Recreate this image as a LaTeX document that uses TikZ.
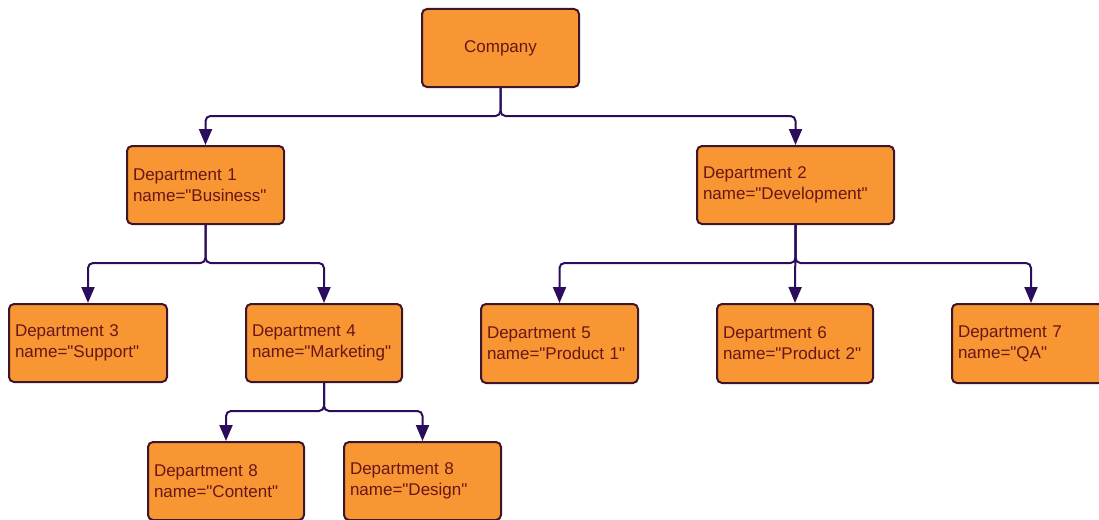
\documentclass[tikz,border=0pt]{standalone}
\usepackage{fontspec}
\setmainfont{Liberation Sans}[Ligatures=TeXOff]
\usetikzlibrary{arrows.meta}
\definecolor{boxfill}{RGB}{247,150,50}
\definecolor{boxedge}{RGB}{62,22,42}
\definecolor{boxtext}{RGB}{105,22,24}
\definecolor{linkcol}{RGB}{44,12,92}
\tikzset{
  x=1pt, y=-1pt,
  unit/.style={draw=boxedge, fill=boxfill, line width=2pt, rounded corners=5pt,
    anchor=north west, text=boxtext, font=\fontsize{17}{21}\selectfont,
    inner xsep=6pt, inner ysep=0pt, align=left},
  top/.style={unit, align=center},
  conn/.style={draw=linkcol, line width=2pt, rounded corners=5pt,
    -{Triangle[length=16pt,width=13pt]}},
}
\begin{document}
\begin{tikzpicture}
\useasboundingbox (0,0) rectangle (1099,519);
\clip (0,0) rectangle (1099,519);
% boxes: top-left corner, width and height in pt
\node[top, minimum width=157pt, minimum height=78pt] (company) at (421,8) {Company};
\node[unit, text width=145pt, minimum height=78pt] (d1) at (126,145) {Department 1\\name="Business"};
\node[unit, text width=185pt, minimum height=78pt] (d2) at (696,145) {Department 2\\name="Development"};
\node[unit, text width=146pt, minimum height=78pt] (d3) at (8,303) {Department 3\\name="Support"};
\node[unit, text width=144pt, minimum height=78pt] (d4) at (245,303) {Department 4\\name="Marketing"};
\node[unit, text width=145pt, minimum height=79pt] (d5) at (480,303) {Department 5\\name="Product 1"};
\node[unit, text width=144pt, minimum height=79pt] (d6) at (716,303) {Department 6\\name="Product 2"};
\node[unit, text width=146pt, minimum height=79pt] (d7) at (951,303) {Department 7\\name="QA"};
\node[unit, text width=144pt, minimum height=78pt] (d8a) at (147,441) {Department 8\\name="Content"};
\node[unit, text width=145pt, minimum height=78pt] (d8b) at (343,441) {Department 8\\name="Design"};
% bus levels
\coordinate (b0) at (500,116);
\coordinate (b1) at (205,263);
\coordinate (b2) at (794,263);
\coordinate (b3) at (323,411);
% connectors
\draw[conn] (company.south) -- (company.south |- b0) -| (d1.north);
\draw[conn] (company.south) -- (company.south |- b0) -| (d2.north);
\draw[conn] (d1.south) -- (d1.south |- b1) -| (d3.north);
\draw[conn] (d1.south) -- (d1.south |- b1) -| (d4.north);
\draw[conn] (d2.south) -- (d2.south |- b2) -| (d5.north);
\draw[conn] (d2.south) -- (d6.north);
\draw[conn] (d2.south) -- (d2.south |- b2) -| (d7.north);
\draw[conn] (d4.south) -- (d4.south |- b3) -| (d8a.north);
\draw[conn] (d4.south) -- (d4.south |- b3) -| (d8b.north);
\end{tikzpicture}
\end{document}
